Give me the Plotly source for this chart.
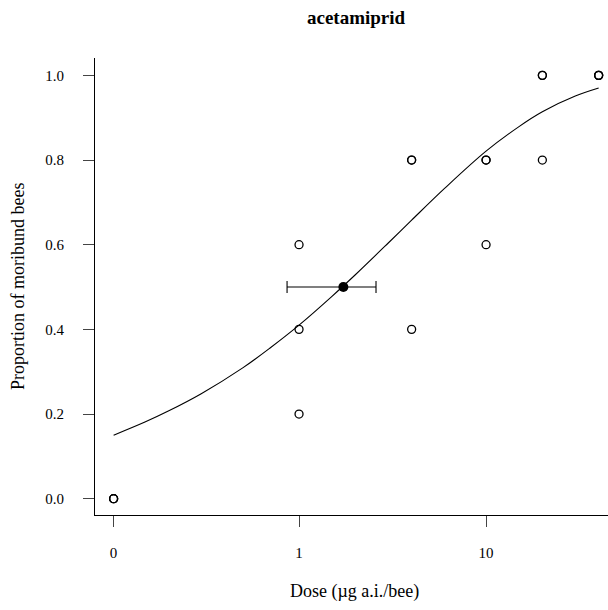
import plotly.graph_objects as go

# ---- data ----
obs_dose = [0, 0, 0, 1, 1, 1, 4, 4, 4, 10, 10, 10, 20, 20, 20, 40, 40, 40]
obs_prop = [0.0, 0.0, 0.0, 0.6, 0.4, 0.2, 0.8, 0.8, 0.4, 0.8, 0.8, 0.6, 1.0, 1.0, 0.8, 1.0, 1.0, 1.0]

ed50 = 1.726
ed50_low = 0.863
ed50_high = 2.58

curve_dose = [0, 0.15, 0.2, 0.3, 0.5, 0.7, 1, 1.5, 2, 3, 4, 6, 10, 15, 20, 30, 40]
curve_prop = [0.150, 0.181, 0.207, 0.248, 0.309, 0.356, 0.410, 0.478, 0.529,
              0.604, 0.658, 0.733, 0.821, 0.879, 0.914, 0.951, 0.970]

x_tick_vals = [0, 1, 10]
x_tick_text = ["0", "1", "10"]
y_tick_vals = [0.0, 0.2, 0.4, 0.6, 0.8, 1.0]
y_tick_text = ["0.0", "0.2", "0.4", "0.6", "0.8", "1.0"]

ZERO_POS = 0.102  # where dose 0 is drawn on the log axis


def pos(d):
    return ZERO_POS if d == 0 else d


FONT = "Liberation Serif"

fig = go.Figure()
fig.add_trace(go.Scatter(
    x=[pos(d) for d in curve_dose], y=curve_prop, mode="lines",
    line=dict(color="black", width=1.1, shape="spline"), hoverinfo="skip"))
fig.add_trace(go.Scatter(
    x=[pos(d) for d in obs_dose], y=obs_prop, mode="markers",
    marker=dict(symbol="circle-open", size=8, color="black", line=dict(width=1.3))))
fig.add_trace(go.Scatter(
    x=[ed50], y=[0.5], mode="markers",
    marker=dict(symbol="circle", size=10, color="black"),
    error_x=dict(type="data", symmetric=False, array=[ed50_high - ed50],
                 arrayminus=[ed50 - ed50_low], color="black", thickness=1.1, width=6)))

fig.update_layout(
    width=608, height=610,
    margin=dict(l=95, r=0, t=58, b=95),
    paper_bgcolor="white", plot_bgcolor="white",
    showlegend=False,
    font=dict(family=FONT, size=15, color="black"),
    xaxis=dict(type="log", range=[-1.0909, 1.652], showgrid=False, zeroline=False,
               showline=True, linecolor="black", linewidth=1.2,
               ticks="outside", ticklen=11, tickwidth=1, tickcolor="#444",
               tickvals=[pos(v) for v in x_tick_vals], ticktext=x_tick_text,
               tickfont=dict(family=FONT, size=15), ticklabelstandoff=13),
    yaxis=dict(range=[-0.0385, 1.041], showgrid=False, zeroline=False,
               showline=True, linecolor="black", linewidth=1.2,
               ticks="outside", ticklen=11, tickwidth=1, tickcolor="#444",
               tickvals=y_tick_vals, ticktext=y_tick_text,
               tickfont=dict(family=FONT, size=15), ticklabelstandoff=16),
    annotations=[
        dict(text="<b>acetamiprid</b>", x=356, y=610 - 17, xref="paper", yref="paper",
             showarrow=False, font=dict(family=FONT, size=19)),
        dict(text="Dose (µg a.i./bee)", x=354, y=610 - 591, xref="paper", yref="paper",
             showarrow=False, font=dict(family=FONT, size=18)),
        dict(text="Proportion of moribund bees", x=18, y=610 - 287, xref="paper", yref="paper",
             showarrow=False, textangle=-90, font=dict(family=FONT, size=18)),
    ],
)
# convert pixel annotation positions into paper fractions
W, H = 608, 610
pw, ph = W - 95 - 0, H - 58 - 95
for a in fig.layout.annotations:
    a.x = (a.x - 95) / pw
    a.y = (a.y - 95) / ph
    a.xanchor = "center"
    a.yanchor = "middle"

fig.write_html("out.html")
